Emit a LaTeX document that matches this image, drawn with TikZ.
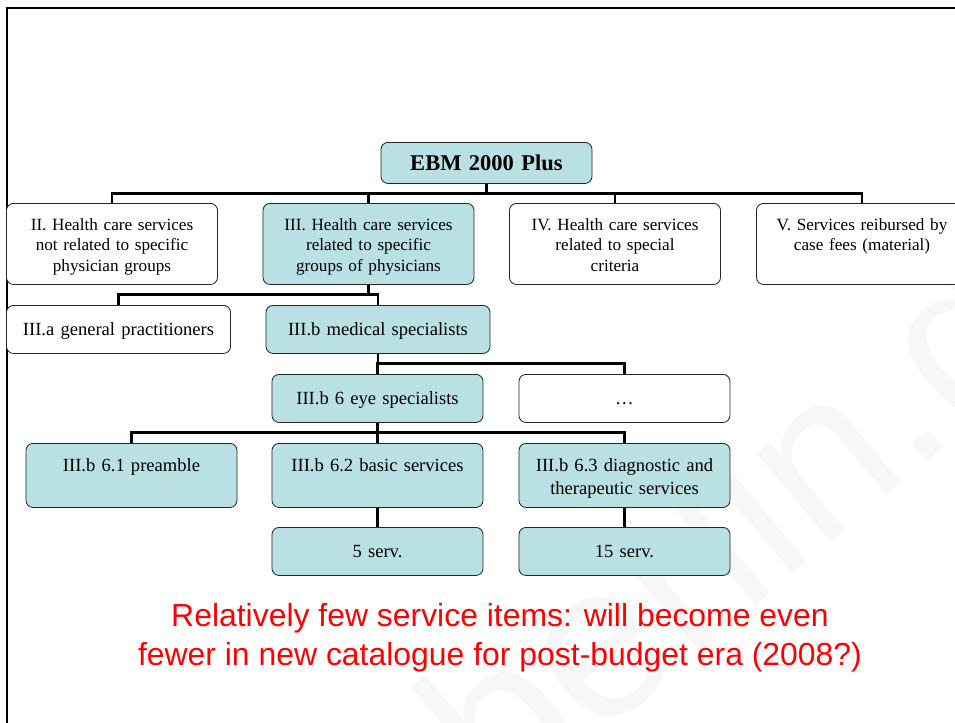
\documentclass[tikz,border=0pt]{standalone}
\usepackage{fontspec}
\setmainfont{Liberation Serif}
\newfontfamily\notefont{Liberation Sans}
\definecolor{boxblue}{RGB}{185,224,227}
\begin{document}
\begin{tikzpicture}[x=0.025cm, y=-0.025cm,
    box/.style={draw=black!85, line width=0.6pt, rounded corners=5pt, fill=white,
        anchor=north, align=center, inner xsep=0pt, inner ysep=0pt,
        text width=5.275cm, text height=0.75cm, text depth=0.45cm,
        font=\fontsize{13.2}{16.4}\selectfont},
    wide/.style={text width=5.6cm},
    hl/.style={fill=boxblue},
    toprow/.style={font=\fontsize{12.2}{14.6}\selectfont,
        text height=0.675cm, text depth=1.35cm},
    lowrow/.style={text height=0.69cm, text depth=0.91cm},
    conn/.style={line width=2pt}]
    \def\drop{10}

    \clip (0,0) rectangle (955,723);
    % faint watermark
    \node[rotate=40, anchor=base west, text=black!3,
        font=\notefont\fontsize{156}{160}\selectfont] (mark) at (498,822) {berlin.de};
    % slide frame
    \draw[line width=1.6pt] (7,740) |- (970,8);

    % root
    \node[box, hl, text height=0.71cm, text depth=0.315cm,
        font=\bfseries\fontsize{16}{19}\selectfont]
        (ebm) at (486.5,142) {EBM 2000 Plus};

    % first level
    \node[box, toprow] (ii) at (112,203)
        {II. Health care services\\not related to specific\\physician groups};
    \node[box, toprow, hl] (iii) at (368.5,203)
        {III. Health care services\\related to specific\\groups of physicians};
    \node[box, toprow] (iv) at (615,203)
        {IV. Health care services\\related to special\\criteria};
    \node[box, toprow] (v) at (862,203)
        {V. Services reibursed by\\case fees (material)};

    % second level
    \node[box, wide] (iiia) at (118.5,305) {III.a general practitioners};
    \node[box, wide, hl] (iiib) at (378,305) {III.b medical specialists};

    % third level
    \node[box, hl] (eye) at (377.5,374) {III.b 6 eye specialists};
    \node[box] (dots) at (624.5,374) {…};

    % fourth level
    \node[box, lowrow, hl] (pre) at (131.5,443) {III.b 6.1 preamble};
    \node[box, lowrow, hl] (basic) at (377.5,443) {III.b 6.2 basic services};
    \node[box, lowrow, hl] (diag) at (624.5,443)
        {III.b 6.3 diagnostic and\\therapeutic services};

    % counts
    \node[box, hl] (five) at (377.5,527) {5 serv.};
    \node[box, hl] (fifteen) at (624.5,527) {15 serv.};

    % connectors
    \foreach \c in {ii,iii,iv,v}
        \draw[conn] (ebm.south) -- ++(0,\drop) -| (\c.north);
    \foreach \c in {iiia,iiib}
        \draw[conn] (iii.south) -- ++(0,\drop) -| (\c.north);
    \foreach \c in {eye,dots}
        \draw[conn] (iiib.south) -- ++(0,\drop) -| (\c.north);
    \foreach \c in {pre,basic,diag}
        \draw[conn] (eye.south) -- ++(0,\drop) -| (\c.north);
    \draw[conn] (basic.south) -- (five.north);
    \draw[conn] (diag.south) -- (fifteen.north);

    % remark
    \node[align=center, text=red, font=\notefont\fontsize{22.7}{27.7}\selectfont]
        (note) at (500,638)
        {Relatively few service items: will become even\\
         fewer in new catalogue for post-budget era (2008?)};
\end{tikzpicture}
\end{document}
